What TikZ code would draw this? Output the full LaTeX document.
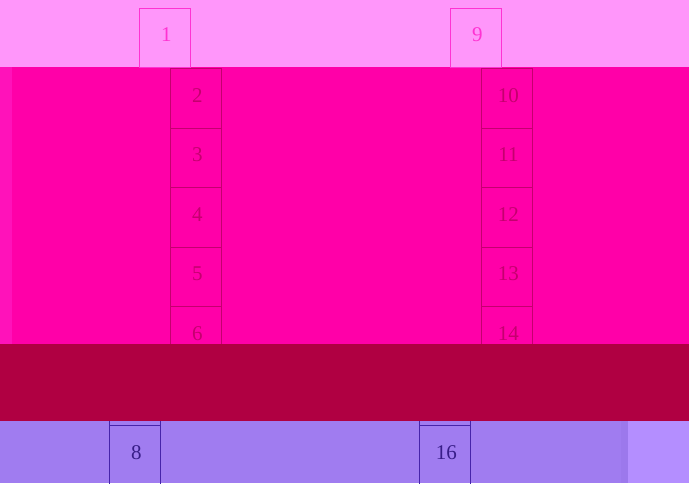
\documentclass[tikz,border=0pt]{standalone}
\usepackage{fontspec}
\setmainfont{Liberation Serif}
\definecolor{topband}{RGB}{255,150,250}
\definecolor{midband}{RGB}{255,0,168}
\definecolor{midstrip}{RGB}{255,18,186}
\definecolor{darkband}{RGB}{176,0,66}
\definecolor{botband}{RGB}{160,124,240}
\definecolor{botlight}{RGB}{180,142,255}
\definecolor{botmid}{RGB}{156,120,236}
\definecolor{topline}{RGB}{255,50,210}
\definecolor{midline}{RGB}{196,0,110}
\definecolor{botline}{RGB}{70,36,170}
\tikzset{
  cell/.style={draw, line width=0.9pt, minimum width=51pt, minimum height=59.5pt, inner sep=0pt,
    text height=14pt, text depth=6pt, font=\fontsize{21}{21}\selectfont, anchor=north west,
    execute at begin node=\hspace*{3pt}},
  topcell/.style={cell, draw=topline, text=topline},
  midcell/.style={cell, draw=midline, text=midline},
  botcell/.style={cell, draw=botline, text=botline!80!black},
}
\begin{document}
\begin{tikzpicture}[x=1pt,y=-1pt]
\useasboundingbox (0,0) rectangle (689,483);
% bands
\fill[topband] (0,0) rectangle (689,67);
\fill[midband] (0,67) rectangle (689,344);
\fill[midstrip] (0,67) rectangle (12,344);
\fill[botband] (0,421) rectangle (689,483);
\fill[botmid] (621,421) rectangle (628,483);
\fill[botlight] (628,421) rectangle (689,483);
% top cells
\node[topcell, minimum height=59pt] (c1) at (139,8) {1};
\node[topcell, minimum height=59pt] (c9) at (450,8) {9};
% middle cells
\begin{scope}
\clip (0,67) rectangle (689,344);
\node[midcell] (c2) at (170,68) {2};
\node[midcell] (c3) at (170,127.5) {3};
\node[midcell] (c4) at (170,187) {4};
\node[midcell] (c5) at (170,246.5) {5};
\node[midcell] (c6) at (170,306) {6};
\node[midcell] (c10) at (481,68) {10};
\node[midcell] (c11) at (481,127.5) {11};
\node[midcell] (c12) at (481,187) {12};
\node[midcell] (c13) at (481,246.5) {13};
\node[midcell] (c14) at (481,306) {14};
\end{scope}
% bottom cells
\begin{scope}
\clip (0,421) rectangle (689,483);
\node[botcell] (c7) at (109,365.5) {7};
\node[botcell] (c8) at (109,425) {8};
\node[botcell] (c15) at (419,365.5) {15};
\node[botcell] (c16) at (419,425) {16};
\end{scope}
% dark band on top
\fill[darkband] (0,344) rectangle (689,421);
\end{tikzpicture}
\end{document}
